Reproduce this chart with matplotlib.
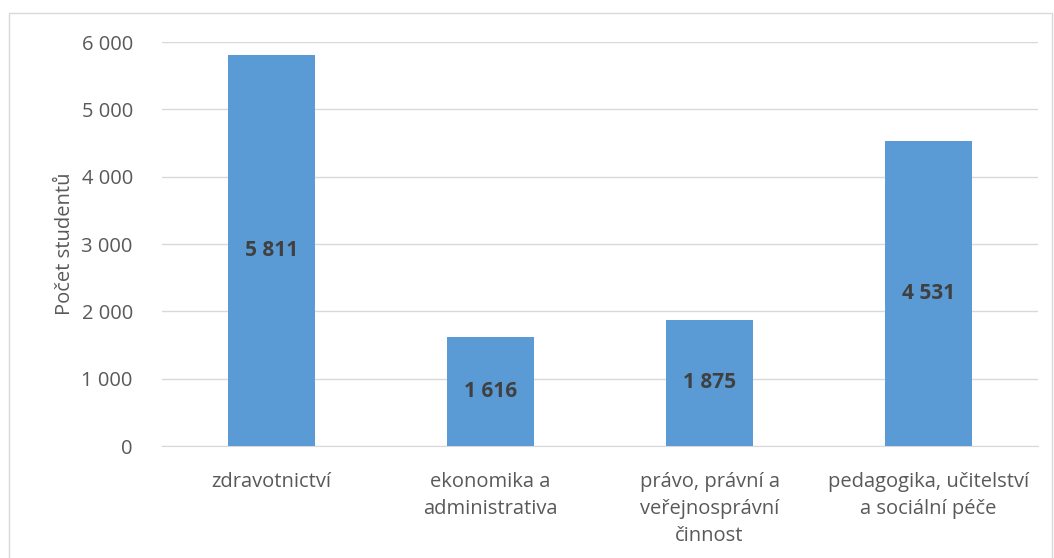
import matplotlib
matplotlib.use("Agg")
import matplotlib.pyplot as plt
from matplotlib.patches import Rectangle
from matplotlib.ticker import FuncFormatter

categories = ["zdravotnictví", "ekonomika a\nadministrativa",
              "právo, právní a\nveřejnosprávní\nčinnost",
              "pedagogika, učitelství\na sociální péče"]
values = [5811, 1616, 1875, 4531]
yticks = [0, 1000, 2000, 3000, 4000, 5000, 6000]

plt.rcParams['font.family'] = ['Open Sans', 'DejaVu Sans']
txt = "#595959"

fig = plt.figure(figsize=(10.54, 5.58), dpi=100)
ax = fig.add_axes([162/1054, 1-446/558, (1038-162)/1054, (446-42)/558])

x = list(range(len(categories)))
ax.bar(x, values, width=0.4, color="#5B9BD5", zorder=3)
ax.set_xlim(-0.5, 3.5)
ax.set_ylim(0, 6000)
ax.set_yticks(yticks)
fmt = lambda v: f"{int(v):,}".replace(",", " ")
ax.yaxis.set_major_formatter(FuncFormatter(lambda v, p: fmt(v)))
ax.grid(axis="y", color="#D9D9D9", linewidth=1, zorder=0)
for s in ["top", "right", "left"]:
    ax.spines[s].set_visible(False)
ax.spines["bottom"].set_color("#D9D9D9")
ax.tick_params(axis="both", length=0, labelsize=14.5, colors=txt)
ax.tick_params(axis="y", pad=21)
ax.tick_params(axis="x", pad=19)
ax.set_xticks(x)
ax.set_xticklabels(categories, linespacing=1.45)
ax.set_ylabel("Počet studentů", fontsize=14.5, color=txt, labelpad=5)

for xi, v in zip(x, values):
    ax.text(xi, v/2, fmt(v), ha="center", va="center", fontsize=15,
            fontweight="bold", color="#404040", zorder=4)

fig.patches.append(Rectangle((9/1054, -0.1), (1052-9)/1054, 1.1-13/558,
                             transform=fig.transFigure, fill=False,
                             edgecolor="#D9D9D9", linewidth=1))

fig.savefig("out.png", dpi=100)
